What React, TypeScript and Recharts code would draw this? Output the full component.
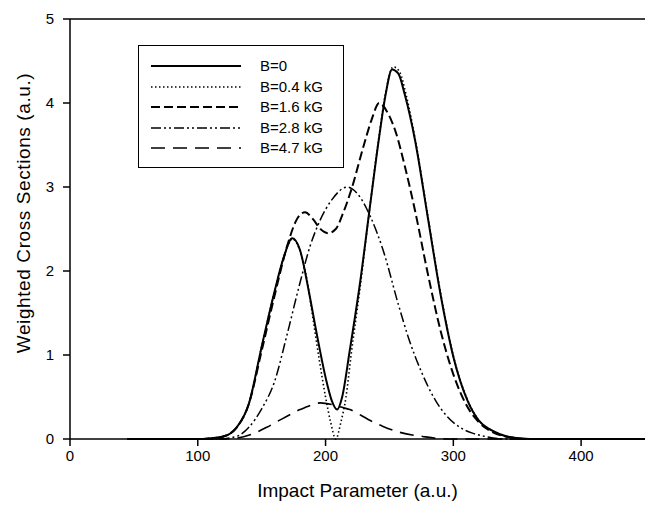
import React from 'react';
import { LineChart, Line, XAxis, YAxis, ReferenceLine, Label } from 'recharts';

// ---- data (impact parameter, weighted cross section) ----
const b0X = [45, 100, 110, 120, 130, 140, 150, 160, 167, 174, 180, 187, 193, 201, 205, 209, 213, 219, 227, 235, 242, 247, 252, 257, 262, 270, 280, 290, 300, 311, 320, 328, 336, 345, 360, 450];
const b0Y = [0, 0, 0.01, 0.03, 0.13, 0.42, 1.1, 1.75, 2.15, 2.39, 2.25, 1.75, 1.26, 0.67, 0.45, 0.35, 0.5, 1.06, 1.86, 2.8, 3.6, 4.1, 4.4, 4.35, 4.1, 3.56, 2.64, 1.72, 0.98, 0.46, 0.22, 0.12, 0.06, 0.02, 0, 0];

const b04X = [45, 100, 110, 120, 130, 140, 150, 160, 167, 174, 180, 186, 190, 195, 200, 204, 208, 212, 216, 220, 227, 235, 242, 247, 253, 258, 263, 270, 280, 290, 300, 311, 320, 328, 336, 345, 360, 450];
const b04Y = [0, 0, 0.01, 0.03, 0.13, 0.42, 1.1, 1.75, 2.15, 2.38, 2.24, 1.85, 1.45, 0.95, 0.5, 0.2, 0, 0.2, 0.5, 1.0, 1.8, 2.8, 3.62, 4.12, 4.43, 4.37, 4.1, 3.58, 2.66, 1.74, 0.99, 0.47, 0.22, 0.12, 0.06, 0.02, 0, 0];

const b16X = [45, 110, 120, 130, 140, 150, 160, 170, 177, 184, 190, 196, 202, 208, 214, 220, 230, 236, 242, 248, 255, 262, 270, 280, 290, 300, 310, 320, 331, 345, 360, 450];
const b16Y = [0, 0, 0.03, 0.13, 0.42, 1.05, 1.7, 2.3, 2.6, 2.7, 2.62, 2.5, 2.45, 2.5, 2.7, 2.96, 3.5, 3.8, 4.0, 3.9, 3.65, 3.25, 2.72, 1.97, 1.29, 0.77, 0.41, 0.2, 0.08, 0.02, 0, 0];

const b28X = [45, 115, 130, 140, 150, 160, 170, 180, 188, 195, 205, 217, 225, 235, 245, 257, 265, 275, 286, 295, 305, 315, 325, 340, 450];
const b28Y = [0, 0, 0.03, 0.14, 0.36, 0.68, 1.25, 1.86, 2.3, 2.58, 2.85, 3.0, 2.92, 2.65, 2.25, 1.6, 1.2, 0.8, 0.46, 0.27, 0.14, 0.07, 0.03, 0, 0];

const b47X = [45, 120, 130, 141, 154, 166, 180, 188, 196, 205, 212, 219, 228, 235, 245, 258, 276, 295, 450];
const b47Y = [0, 0, 0.01, 0.05, 0.14, 0.24, 0.35, 0.4, 0.43, 0.41, 0.38, 0.35, 0.28, 0.22, 0.15, 0.08, 0.03, 0, 0];

const xTicks = [0, 100, 200, 300, 400];
const yTicks = [0, 1, 2, 3, 4, 5];

const seriesNames = ['B=0', 'B=0.4 kG', 'B=1.6 kG', 'B=2.8 kG', 'B=4.7 kG'];

const toPoints = (xs: number[], ys: number[]) => xs.map((x, i) => ({ x, y: ys[i] }));

const series = [
  { name: seriesNames[0], data: toPoints(b0X, b0Y), dash: undefined as string | undefined, width: 2 },
  { name: seriesNames[1], data: toPoints(b04X, b04Y), dash: '1.5 2.5', width: 1.6 },
  { name: seriesNames[2], data: toPoints(b16X, b16Y), dash: '9 4', width: 2 },
  { name: seriesNames[3], data: toPoints(b28X, b28Y), dash: '10 3 2 3 2 3', width: 1.5 },
  { name: seriesNames[4], data: toPoints(b47X, b47Y), dash: '14 8', width: 1.6 },
];

const FONT = 'Liberation Sans, Arial, Helvetica, sans-serif';

const LegendBox = () => (
  <div
    style={{
      position: 'absolute',
      left: 138,
      top: 45,
      width: 206,
      height: 123,
      border: '1.5px solid #000',
      background: '#fff',
      boxSizing: 'border-box',
      fontFamily: FONT,
      fontSize: 15,
      color: '#000',
    }}
  >
    {series.map((s, i) => (
      <div key={s.name} style={{ position: 'absolute', left: 0, top: 11 + i * 20.5, height: 18, width: 204 }}>
        <svg width={100} height={18} style={{ position: 'absolute', left: 10, top: 0 }}>
          <line x1={2} y1={9} x2={92} y2={9} stroke="#000" strokeWidth={s.width} strokeDasharray={s.dash} />
        </svg>
        <span style={{ position: 'absolute', left: 121, top: 0, lineHeight: '18px' }}>{s.name}</span>
      </div>
    ))}
  </div>
);

const YTitle = (props: any) => {
  const vb = props.viewBox || { x: 0, y: 19, width: 70, height: 420 };
  const cx = vb.x + 23;
  const cy = vb.y + vb.height / 2 - 16;
  return (
    <text
      x={cx}
      y={cy}
      transform={`rotate(-90 ${cx} ${cy})`}
      textAnchor="middle"
      dominantBaseline="central"
      style={{ fill: '#000', fontSize: 19, fontFamily: FONT, letterSpacing: 0.6 }}
    >
      Weighted Cross Sections (a.u.)
    </text>
  );
};

export default function App() {
  return (
    <div style={{ position: 'absolute', left: 0, top: 0, width: 645, height: 506, background: '#fff' }}>
      <LineChart width={645} height={506} margin={{ top: 19, right: 0, left: 0, bottom: 0 }}>
        <XAxis
          dataKey="x"
          type="number"
          domain={[0, 450]}
          ticks={xTicks}
          allowDataOverflow
          height={67}
          tickSize={7}
          tickMargin={4}
          axisLine={{ stroke: '#000', strokeWidth: 1.5 }}
          tickLine={{ stroke: '#000', strokeWidth: 1.5 }}
          tick={{ fill: '#000', fontSize: 15, fontFamily: FONT }}
        >
          <Label value="Impact Parameter (a.u.)" position="insideBottom" offset={9} style={{ fill: '#000', fontSize: 19, fontFamily: FONT }} />
        </XAxis>
        <YAxis
          type="number"
          domain={[0, 5]}
          ticks={yTicks}
          width={70}
          tickSize={7}
          tickMargin={9}
          axisLine={{ stroke: '#000', strokeWidth: 1.5 }}
          tickLine={{ stroke: '#000', strokeWidth: 1.5 }}
          tick={{ fill: '#000', fontSize: 15, fontFamily: FONT }}
        >
          <Label content={YTitle} />
        </YAxis>
        <ReferenceLine y={5} stroke="#000" strokeWidth={1.5} />
        {series.map((s) => (
          <Line
            key={s.name}
            data={s.data}
            dataKey="y"
            name={s.name}
            type="monotone"
            stroke="#000"
            strokeWidth={s.width}
            strokeDasharray={s.dash}
            dot={false}
            activeDot={false}
            isAnimationActive={false}
          />
        ))}
      </LineChart>
      <LegendBox />
    </div>
  );
}
